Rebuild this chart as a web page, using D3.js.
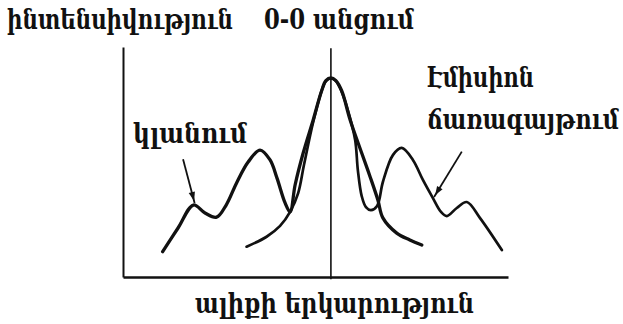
<!DOCTYPE html>
<html>
<head>
<meta charset="utf-8">
<script src="https://cdn.jsdelivr.net/npm/d3@7"></script>
<style>
  html, body { margin: 0; padding: 0; background: #fff; }
  svg { display: block; }
  text { font-family: "DejaVu Serif", serif; font-weight: bold; font-stretch: condensed; fill: #111; }
</style>
</head>
<body>
<svg id="chart" width="623" height="324"></svg>
<script>
// ---- data (wavelength in arbitrary units, intensity in arbitrary units) ----
const absorptionX = [10.3, 14.3, 18.3, 21.3, 24.3, 26.8, 29.5, 32.5, 35.6, 38.2, 40.0, 42.1, 43.4, 44.7, 46.8, 49.4, 51.6, 52.7, 54.0, 55.3, 56.8, 59.0, 62.0, 64.2, 66.2, 67.5, 71.1, 74.5, 77.6];
const absorptionY = [11.0, 21.3, 31.3, 27.8, 26.0, 31.3, 40.9, 50.0, 55.2, 50.9, 43.0, 32.2, 28.3, 40.0, 53.9, 68.3, 81.0, 85.4, 86.6, 85.4, 81.0, 68.3, 53.9, 43.5, 33.5, 25.7, 19.1, 16.1, 13.9];
const emissionX = [32.1, 37.3, 40.8, 43.4, 45.5, 47.0, 49.4, 51.6, 52.7, 54.0, 55.3, 56.8, 58.4, 60.3, 61.0, 62.0, 63.1, 64.4, 66.0, 67.5, 70.1, 72.4, 75.3, 77.9, 80.5, 82.6, 84.1, 86.7, 89.3, 92.7, 98.4];
const emissionY = [13.2, 17.5, 22.2, 28.3, 36.5, 48.7, 67.4, 81.0, 85.2, 86.4, 85.2, 80.5, 72.6, 59.6, 46.5, 35.2, 30.4, 29.1, 30.9, 41.3, 53.0, 56.1, 50.9, 42.2, 34.3, 28.3, 26.5, 30.0, 32.6, 25.7, 11.7];
const transition00 = 54.0;
// annotation arrows: [fromX, fromY, toX, toY]
const absorptionArrow = [15.6, 51.2, 18.6, 32.2];
const emissionArrow = [88.0, 54.5, 80.8, 34.8];
// texts
const yTitle = "ինտենսիվություն";
const transitionLabel = "0-0 անցում";
const xTitle = "ալիքի երկարություն";
const absorptionLabel = "կլանում";
const emissionLabel = ["Էմիսիոն", "ճառագայթում"];

// ---- drawing ----
const svg = d3.select("#chart");
const x = d3.scaleLinear().domain([0, 100]).range([123, 508]);
const y = d3.scaleLinear().domain([0, 100]).range([277, 47]);

// axes (no ticks)
const xAxis = svg.append("g").attr("transform", `translate(0,${y(0)})`)
  .call(d3.axisBottom(x).tickValues([]).tickSizeOuter(0));
xAxis.select(".domain").attr("stroke", "#111").attr("stroke-width", 2.6);
const yAxis = svg.append("g").attr("transform", `translate(${x(0)},0)`)
  .call(d3.axisLeft(y).tickValues([]).tickSizeOuter(0));
yAxis.select(".domain").attr("stroke", "#111").attr("stroke-width", 2);

// 0-0 transition line
svg.append("line")
  .attr("x1", x(transition00)).attr("x2", x(transition00))
  .attr("y1", y(99.5)).attr("y2", y(-1))
  .attr("stroke", "#111").attr("stroke-width", 1.6);

const line = d3.line().x(d => x(d[0])).y(d => y(d[1])).curve(d3.curveCatmullRom.alpha(0.5));

svg.append("path")
  .datum(emissionX.map((v, i) => [v, emissionY[i]]))
  .attr("d", line).attr("fill", "none").attr("stroke", "#111")
  .attr("stroke-width", 2.7).attr("stroke-linejoin", "round").attr("stroke-linecap", "round");

svg.append("path")
  .datum(absorptionX.map((v, i) => [v, absorptionY[i]]))
  .attr("d", line).attr("fill", "none").attr("stroke", "#111")
  .attr("stroke-width", 3.3).attr("stroke-linejoin", "round").attr("stroke-linecap", "round");

// arrows
function arrow(a) {
  const x1 = x(a[0]), y1 = y(a[1]), x2 = x(a[2]), y2 = y(a[3]);
  const ang = Math.atan2(y2 - y1, x2 - x1);
  svg.append("line").attr("x1", x1).attr("y1", y1).attr("x2", x2).attr("y2", y2)
    .attr("stroke", "#111").attr("stroke-width", 1.8);
  const L = 9, W = 3.2;
  const tx = x2 - Math.cos(ang) * 2, ty = y2 - Math.sin(ang) * 2;
  const bx = tx - Math.cos(ang) * L, by = ty - Math.sin(ang) * L;
  const px = -Math.sin(ang) * W, py = Math.cos(ang) * W;
  svg.append("path")
    .attr("d", `M${tx},${ty}L${bx + px},${by + py}L${bx - px},${by - py}Z`)
    .attr("fill", "#111");
}
arrow(absorptionArrow);
arrow(emissionArrow);

// texts: measured natural width, then horizontally scaled to the target width
function label(t, xp, yp, w) {
  const el = svg.append("text").attr("x", 0).attr("y", 0)
    .attr("font-size", 27).text(t);
  const w0 = el.node().getComputedTextLength();
  const sx = w / w0;
  el.attr("transform", `translate(${xp},${yp}) scale(${sx},1)`);
}
label(yTitle, 7, 29, 226);
label(transitionLabel, 264, 29, 150);
label(absorptionLabel, 133, 143, 114);
label(emissionLabel[0], 427, 87, 107);
label(emissionLabel[1], 427, 129, 192);
label(xTitle, 195, 313, 279);
</script>
</body>
</html>
